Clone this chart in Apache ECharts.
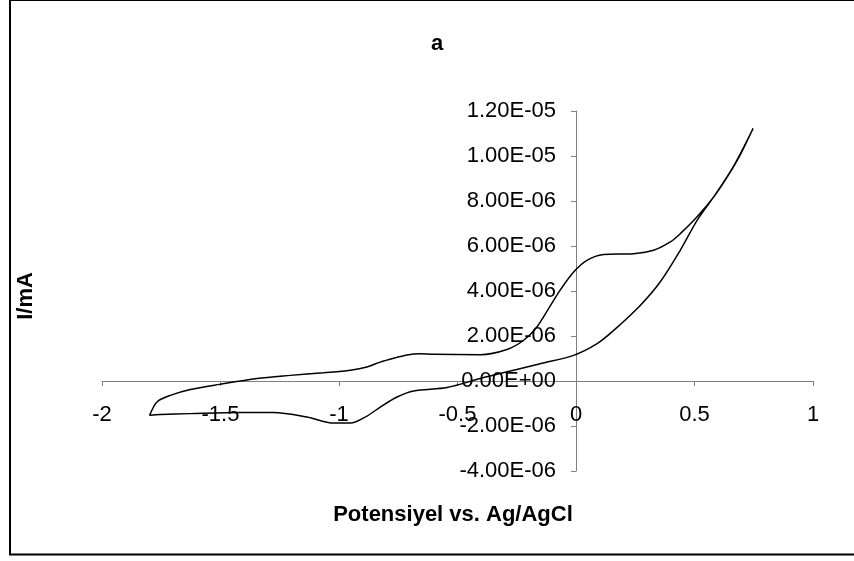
<!DOCTYPE html>
<html>
<head>
<meta charset="utf-8">
<title>a</title>
<script src="https://cdn.jsdelivr.net/npm/echarts@6/dist/echarts.min.js"></script>
<style>
  html, body { margin: 0; padding: 0; background: #fff; }
  #myChart { width: 854px; height: 561px; }
</style>
</head>
<body>
<div id="myChart"></div>
<script>
// potential (V) and current (A)
// return scan: from 0.75 V down to -1.8 V
var backE = [0.747, 0.665, 0.581, 0.511, 0.440, 0.355, 0.271, 0.159, 0.089, -0.010, -0.151, -0.263, -0.404, -0.544,
  -0.685, -0.755, -0.826, -0.882, -0.952, -1.023, -1.135, -1.276, -1.416, -1.627, -1.754, -1.799];
var backI = [11.22e-6, 9.55e-6, 8.18e-6, 7.14e-6, 5.81e-6, 4.40e-6, 3.36e-6, 2.25e-6, 1.66e-6, 1.14e-6, 0.77e-6, 0.48e-6, 0.11e-6, -0.29e-6,
  -0.44e-6, -0.71e-6, -1.16e-6, -1.56e-6, -1.87e-6, -1.87e-6, -1.60e-6, -1.40e-6, -1.40e-6, -1.45e-6, -1.49e-6, -1.52e-6];
// forward scan: from -1.8 V up to 0.75 V
var fwdE = [-1.768, -1.712, -1.627, -1.504, -1.346, -1.205, -1.065, -0.952, -0.882, -0.826, -0.755, -0.713, -0.660, -0.601, -0.404,
  -0.291, -0.221, -0.165, -0.108, -0.066, -0.010, 0.046, 0.116, 0.243, 0.327, 0.398, 0.440, 0.511, 0.581, 0.637, 0.693, 0.747];
var fwdI = [-0.93e-6, -0.64e-6, -0.38e-6, -0.15e-6, 0.11e-6, 0.25e-6, 0.37e-6, 0.48e-6, 0.62e-6, 0.84e-6, 1.05e-6, 1.16e-6, 1.21e-6, 1.19e-6, 1.17e-6,
  1.40e-6, 1.81e-6, 2.40e-6, 3.35e-6, 4.05e-6, 4.84e-6, 5.36e-6, 5.62e-6, 5.66e-6, 5.81e-6, 6.18e-6, 6.55e-6, 7.30e-6, 8.18e-6, 9.05e-6, 10.05e-6, 11.22e-6];

var xTicks = [-2, -1.5, -1, -0.5, 0, 0.5, 1];
var yTicks = [-4e-6, -2e-6, 0, 2e-6, 4e-6, 6e-6, 8e-6, 1e-5, 1.2e-5];

var titleText = 'a';
var xName = 'Potensiyel vs. Ag/AgCl';
var yName = 'I/mA';

// Excel style: 1.20E-05
function sci(v) {
  var p = v.toExponential(2).split('e');
  var e = parseInt(p[1], 10);
  var s = e < 0 ? '-' : '+';
  e = Math.abs(e);
  return p[0].toUpperCase() + 'E' + s + (e < 10 ? '0' + e : '' + e);
}

var loop = [];
for (var i = 0; i < backE.length; i++) loop.push([backE[i], backI[i]]);
for (var j = 0; j < fwdE.length; j++) loop.push([fwdE[j], fwdI[j]]);

var font = 'Liberation Sans, Arial, sans-serif';
var axisGray = '#808080';

// plot box, axes cross at zero (Excel style)
var gridW = 711, gridH = 360;
var xMin = xTicks[0], xMax = xTicks[xTicks.length - 1];
var yMin = yTicks[0], yMax = yTicks[yTicks.length - 1];
var yAxisOffset = -gridW * (0 - xMin) / (xMax - xMin);
var xAxisOffset = -gridH * (0 - yMin) / (yMax - yMin);

var myChart = echarts.init(document.getElementById('myChart'));
myChart.setOption({
  backgroundColor: '#fff',
  animation: false,
  grid: { left: 102, top: 111, width: gridW, height: gridH },
  xAxis: {
    type: 'value',
    position: 'bottom',
    offset: xAxisOffset,
    min: xMin,
    max: xMax,
    interval: 0.5,
    splitLine: { show: false },
    axisLine: { onZero: false, lineStyle: { color: axisGray, width: 1 } },
    axisTick: { length: 5, lineStyle: { color: axisGray } },
    axisLabel: { margin: 23, color: '#000', fontSize: 22, fontFamily: font }
  },
  yAxis: {
    type: 'value',
    position: 'left',
    offset: yAxisOffset,
    min: yMin,
    max: yMax,
    interval: 2e-6,
    splitLine: { show: false },
    axisLine: { show: true, onZero: false, lineStyle: { color: axisGray, width: 1 } },
    axisTick: { show: true, length: 5, lineStyle: { color: axisGray } },
    axisLabel: {
      margin: 20, color: '#000', fontSize: 22, fontFamily: font,
      formatter: function (v) { return sci(v); }
    }
  },
  series: [{
    type: 'line',
    data: loop,
    showSymbol: false,
    smooth: 0.3,
    lineStyle: { color: '#000', width: 1.5 }
  }],
  graphic: [
    {
      type: 'rect',
      shape: { x: 10, y: 0, width: 900, height: 554.5 },
      style: { fill: null, stroke: '#000', lineWidth: 2 },
      silent: true
    },
    {
      type: 'text', x: 437, y: 44,
      style: { text: titleText, font: 'bold 22px ' + font, fill: '#000', textAlign: 'center', textVerticalAlign: 'middle' }
    },
    {
      type: 'text', x: 453, y: 515,
      style: { text: xName, font: 'bold 22px ' + font, fill: '#000', textAlign: 'center', textVerticalAlign: 'middle' }
    },
    {
      type: 'text', x: 26, y: 296, rotation: Math.PI / 2,
      style: { text: yName, font: 'bold 22px ' + font, fill: '#000', textAlign: 'center', textVerticalAlign: 'middle' }
    }
  ]
});
</script>
</body>
</html>
